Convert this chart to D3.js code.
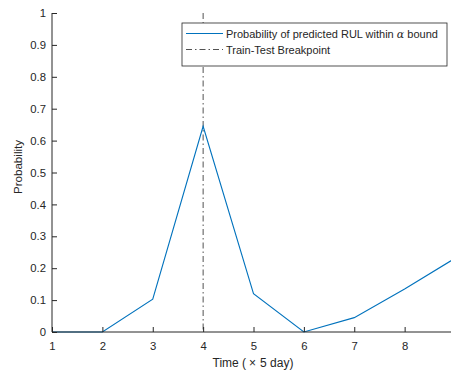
<!DOCTYPE html>
<html>
<head>
<meta charset="utf-8">
<script src="https://d3js.org/d3.v7.min.js"></script>
<style>
	body { margin: 0; background: #fff; }
	svg text { font-family: "Liberation Sans", Arial, sans-serif; fill: #262626; }
</style>
</head>
<body>
<svg width="451" height="373"></svg>
<script>
	// data
	var timeSteps = [1, 2, 3, 4, 5, 6, 7, 8, 9];
	var probValues = [0, 0, 0.103, 0.645, 0.12, 0, 0.045, 0.135, 0.231];
	var breakpoint = 4;
	var xTicks = [1, 2, 3, 4, 5, 6, 7, 8];
	var yTicks = [0, 0.1, 0.2, 0.3, 0.4, 0.5, 0.6, 0.7, 0.8, 0.9, 1];

	var svg = d3.select("svg");
	var mLeft = 52, mRight = 455, mTop = 13, mBottom = 332;

	var x = d3.scaleLinear().domain([1, 9]).range([mLeft, mRight]);
	var y = d3.scaleLinear().domain([0, 1]).range([mBottom, mTop]);

	// clip so the line stops at the plot edge
	svg.append("clipPath").attr("id", "clip")
		.append("rect").attr("x", mLeft).attr("y", mTop - 2)
		.attr("width", mRight - mLeft).attr("height", mBottom - mTop + 4);

	// breakpoint line
	svg.append("line")
		.attr("x1", x(breakpoint)).attr("x2", x(breakpoint))
		.attr("y1", y(1)).attr("y2", y(0))
		.attr("stroke", "#262626").attr("stroke-width", 0.8)
		.attr("stroke-dasharray", "6,3,1.5,3");

	// probability line
	var line = d3.line()
		.x(function (d, i) { return x(timeSteps[i]); })
		.y(function (d) { return y(d); });
	svg.append("path")
		.datum(probValues)
		.attr("clip-path", "url(#clip)")
		.attr("d", line)
		.attr("fill", "none")
		.attr("stroke", "#0072BD")
		.attr("stroke-width", 1.1);

	// y axis, ticks pointing in
	var yAxis = svg.append("g")
		.attr("transform", "translate(" + mLeft + ",0)")
		.call(d3.axisRight(y).tickValues(yTicks).tickSize(5).tickFormat(d3.format("~g")));
	yAxis.select(".domain").attr("stroke", "#262626").attr("d", "M0," + mTop + "V" + mBottom);
	yAxis.selectAll(".tick line").attr("stroke", "#262626");
	yAxis.selectAll(".tick text")
		.attr("x", -6).attr("text-anchor", "end")
		.style("font-size", "11.3px");

	// x axis, ticks pointing in
	var xAxis = svg.append("g")
		.attr("transform", "translate(0," + mBottom + ")")
		.call(d3.axisTop(x).tickValues(xTicks).tickSize(5).tickFormat(d3.format("d")));
	xAxis.select(".domain").attr("stroke", "#262626").attr("d", "M" + mLeft + ",0H" + 451);
	xAxis.selectAll(".tick line").attr("stroke", "#262626");
	xAxis.selectAll(".tick text")
		.attr("y", 18).attr("dy", 0)
		.style("font-size", "11.3px");

	// axis labels
	var xl = svg.append("text")
		.attr("x", 253).attr("y", 367)
		.attr("text-anchor", "middle")
		.style("font-size", "12px");
	xl.append("tspan").text("Time (");
	xl.append("tspan").attr("dx", 3).text("\u00D7");
	xl.append("tspan").attr("dx", 4).text("5 day)");
	svg.append("text")
		.attr("transform", "translate(22,167) rotate(-90)")
		.attr("text-anchor", "middle")
		.style("font-size", "11.6px")
		.text("Probability");

	// legend
	var lg = svg.append("g").attr("transform", "translate(182,23)");
	lg.append("rect")
		.attr("width", 265).attr("height", 43)
		.attr("fill", "#fff").attr("stroke", "#262626").attr("stroke-width", 0.8);
	lg.append("line")
		.attr("x1", 4).attr("x2", 41).attr("y1", 10.5).attr("y2", 10.5)
		.attr("stroke", "#0072BD").attr("stroke-width", 1.2);
	lg.append("line")
		.attr("x1", 4).attr("x2", 41).attr("y1", 26.5).attr("y2", 26.5)
		.attr("stroke", "#262626").attr("stroke-width", 0.8)
		.attr("stroke-dasharray", "6,3,1.5,3");
	var t1 = lg.append("text").attr("x", 44).attr("y", 14.5).style("font-size", "11px");
	t1.append("tspan").text("Probability of predicted RUL within ");
	t1.append("tspan").style("font-family", "DejaVu Serif").style("font-style", "italic").text("\u03B1");
	t1.append("tspan").text(" bound");
	lg.append("text").attr("x", 44).attr("y", 30.5).style("font-size", "11px")
		.text("Train-Test Breakpoint");
</script>
</body>
</html>
